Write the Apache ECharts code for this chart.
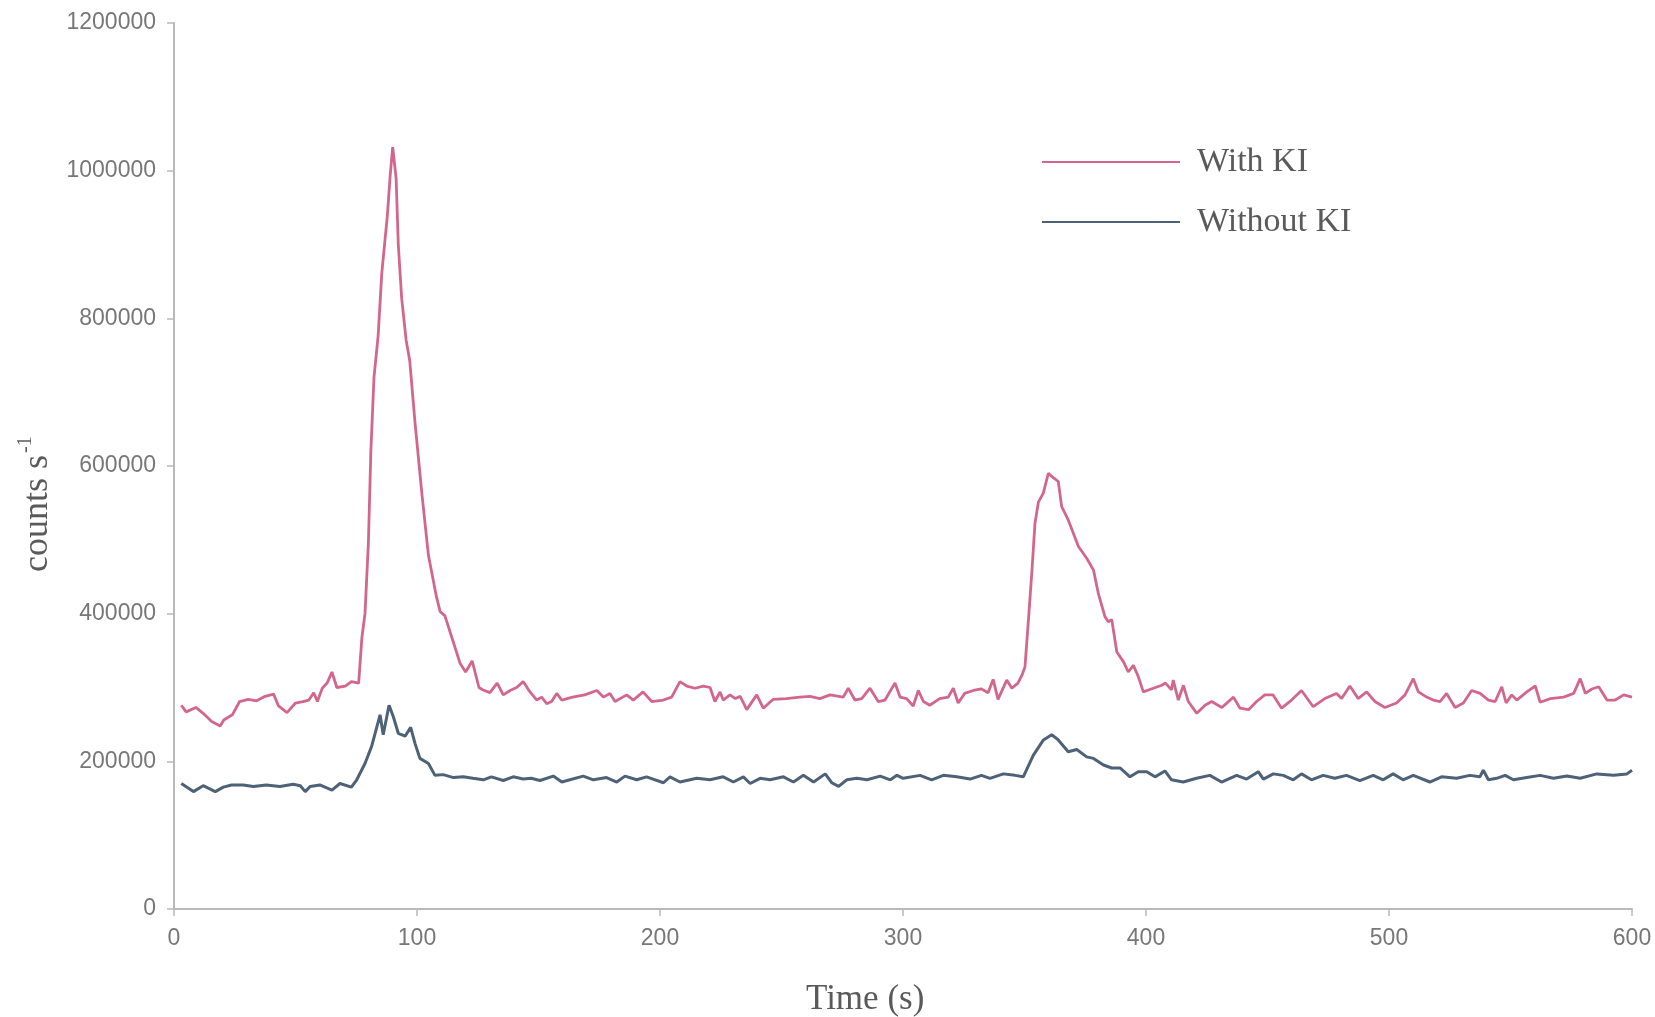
<!DOCTYPE html>
<html>
<head>
<meta charset="utf-8">
<script src="https://cdn.jsdelivr.net/npm/echarts@6/dist/echarts.min.js"></script>
<style>
html,body{margin:0;padding:0;background:#fff;}
#chart{width:1655px;height:1017px;}
</style>
</head>
<body>
<div id="chart"></div>
<script>
// ---- data ----
const seriesNames = ['With KI', 'Without KI'];
const xTickValues = [0, 100, 200, 300, 400, 500, 600];
const yTickValues = [0, 200000, 400000, 600000, 800000, 1000000, 1200000];

const withTime = [3,5,9,12,15.5,19,20.5,24,27,30.5,34,37.5,41,43,46.5,50,53,55.5,57.5,59,61,63,65,67,70.5,73,76,77.3,78.6,80,81,82.3,84,85.5,87.8,89,90,91.4,92.3,93.7,95.5,97,99.2,102,104.7,108,109.5,111.5,115,117.7,120,122.7,125.5,127,130,133,135.5,138.3,141,143.7,146.5,149.3,151.3,153.4,155.4,157.5,159.6,164,169,174,176.7,179.4,181.5,186.3,189,193,196.6,201.4,204.8,208.2,211,214.4,217.8,220.6,222.6,224.7,226,228.8,231,233,235.7,239.8,242.5,246.6,252,257.6,261.7,265.8,270,275.4,277.5,280.2,283,286.4,289.8,292.6,296.7,298.8,301.5,304.2,306.3,308.4,311,315.1,318.6,320.7,322.7,325.4,328.9,332.3,335,337.1,339.1,342.7,344.8,347.3,349,350.2,351.6,353,354.3,355.7,357.7,359.8,361.6,363.9,365.3,368,372.2,375.6,378.4,380.4,383.1,384.5,385.9,388,390.7,392.7,394.8,396.8,398.9,403,406.5,408,410.5,411.2,413.3,415.4,417.4,420.9,424.3,427,431.2,436,438.7,442.2,445.5,448.9,452.3,455.8,459.9,464,468.8,473.6,478.4,480.5,483.9,487.3,490.8,494.2,498.3,503.1,506.6,510,512.1,515.5,518.2,521,523.7,527.2,530.6,534,537.5,540.9,543.7,546.4,548.2,550.5,552.6,556.7,560.2,562.2,566.4,571.9,576,578.7,580.8,583.5,586.3,589.7,593.1,596.6,600];
const withCounts = [276000,267000,273000,265000,254000,248000,256000,263000,281000,284000,282000,288000,291000,275000,266000,279000,281000,283000,293000,281000,299000,306000,321000,300000,302000,308000,306000,367000,400000,496000,619000,720000,776000,861000,939000,995000,1032000,990000,900000,827000,771000,743000,658000,563000,479000,423000,403000,397000,361000,333000,321000,336000,300000,297000,293000,306000,290000,296000,300000,308000,294000,283000,287000,278000,281000,292000,283000,287000,290000,296000,287000,292000,281000,290000,283000,294000,281000,283000,287000,308000,302000,299000,302000,300000,281000,294000,283000,290000,285000,288000,270000,290000,272000,284000,285000,287000,288000,285000,290000,287000,299000,283000,285000,299000,281000,283000,306000,287000,285000,275000,296000,281000,276000,285000,287000,299000,279000,292000,296000,298000,293000,311000,284000,310000,299000,306000,317000,328000,391000,455000,522000,551000,563000,590000,585000,579000,545000,527000,491000,475000,459000,427000,396000,389000,392000,348000,335000,321000,330000,315000,294000,299000,303000,306000,297000,310000,283000,303000,281000,265000,276000,281000,273000,287000,272000,270000,281000,290000,290000,272000,283000,296000,274000,285000,292000,285000,302000,285000,294000,281000,273000,279000,290000,312000,294000,287000,283000,281000,292000,273000,279000,296000,292000,283000,281000,301000,279000,290000,283000,294000,302000,280000,285000,287000,292000,312000,292000,298000,301000,283000,283000,290000,287000];

const withoutTime = [3,8,12,17,20.3,23.7,28.5,32.6,38,43.6,49,52,54,56,60,65,68.3,73,75.2,78.6,81.3,84.8,86.1,88.5,90.3,92.3,95.1,97.4,99.2,101.2,104.7,107.4,110.8,115,119,123,127.3,130.6,135.5,139.6,143.7,147,150.6,156.1,159.6,168.4,172.6,178,182.2,185.6,190.4,194.5,201.4,204.1,208.2,215.1,220.6,226,230.2,234.3,237.1,241.2,245.3,250.8,254.9,259,263.2,268,270.7,273.5,276.9,281,285.2,290.6,294.8,297.5,300.1,307,311.8,316.6,322.1,327.6,332.3,335.8,341.3,346.1,349.5,353.6,357.8,361.2,363.9,368,371.5,375.6,378.4,382.5,385.9,389.3,393.4,396.8,400.3,403.7,407.8,410.5,415.3,420.8,426.3,431.1,437.3,441.4,446.2,448.3,452.4,456.5,460.6,464,468.1,472.9,477.7,482.5,488,493.5,497.6,501.7,505.8,510,516.8,521.6,527.8,533.3,537.4,538.8,540.9,544.3,547.8,551.2,556.7,562.2,567.7,573.2,578.7,585.5,592.4,597.9,600];
const withoutCounts = [170000,159000,167000,159000,165000,168000,168000,166000,168000,166000,169000,167000,159000,166000,168000,161000,170000,165000,175000,197000,220000,263000,236000,276000,260000,238000,234000,246000,224000,204000,197000,181000,182000,178000,179000,177000,175000,179000,174000,179000,176000,177000,174000,180000,172000,180000,175000,178000,172000,180000,175000,179000,171000,179000,172000,177000,175000,179000,172000,179000,170000,177000,175000,179000,172000,181000,172000,183000,171000,166000,175000,177000,175000,180000,175000,181000,177000,181000,175000,181000,179000,176000,181000,177000,183000,181000,179000,208000,229000,236000,229000,213000,216000,206000,204000,195000,191000,191000,179000,186000,186000,179000,187000,175000,172000,177000,181000,172000,181000,176000,186000,176000,183000,181000,175000,183000,175000,181000,177000,181000,174000,181000,175000,183000,175000,181000,172000,179000,177000,181000,179000,188000,175000,177000,181000,175000,178000,181000,177000,180000,177000,183000,181000,183000,188000];

const colors = ['#d3678a', '#4d6177'];

// ---- chart ----
const chart = echarts.init(document.getElementById('chart'), null, {renderer: 'canvas'});
const axisColor = '#b9b9b9';
const labelColor = '#777777';
const titleFont = '"Liberation Serif", "Times New Roman", serif';
const labelFont = '"Liberation Sans", Arial, sans-serif';

const option = {
  backgroundColor: '#ffffff',
  animation: false,
  grid: {left: 174, right: 23, top: 23, bottom: 108, containLabel: false},
  legend: {
    orient: 'vertical',
    left: 1037,
    top: 138,
    icon: 'rect',
    itemWidth: 138,
    itemHeight: 2,
    itemGap: 22,
    data: seriesNames,
    textStyle: {
      fontFamily: titleFont,
      fontSize: 34,
      color: '#5a5a5a',
      lineHeight: 38,
      padding: [0, 0, 0, 12]
    }
  },
  xAxis: {
    type: 'value',
    min: xTickValues[0],
    max: xTickValues[xTickValues.length - 1],
    interval: xTickValues[1] - xTickValues[0],
    splitLine: {show: false},
    axisLine: {lineStyle: {color: axisColor, width: 2}},
    axisTick: {length: 7, lineStyle: {color: axisColor, width: 1.5}},
    axisLabel: {
      color: labelColor,
      fontSize: 23,
      fontFamily: labelFont,
      margin: 18,
      formatter: v => String(v)
    }
  },
  yAxis: {
    type: 'value',
    min: yTickValues[0],
    max: yTickValues[yTickValues.length - 1],
    interval: yTickValues[1] - yTickValues[0],
    splitLine: {show: false},
    axisLine: {show: true, lineStyle: {color: axisColor, width: 2}},
    axisTick: {show: true, length: 7, lineStyle: {color: axisColor, width: 1.5}},
    axisLabel: {
      color: labelColor,
      fontSize: 23,
      fontFamily: labelFont,
      margin: 18,
      formatter: v => String(v)
    }
  },
  graphic: [
    {
      type: 'text',
      left: 806,
      top: 982,
      style: {
        text: 'Time (s)',
        font: '35px ' + titleFont,
        fill: '#5a5a5a'
      }
    },
    {
      type: 'text',
      x: 16,
      y: 572,
      rotation: Math.PI / 2,
      style: {
        text: '{a|counts s}{b|-1}',
        fill: '#5a5a5a',
        rich: {
          a: {fontFamily: titleFont, fontSize: 36, fill: '#5a5a5a', lineHeight: 40, verticalAlign: 'bottom'},
          b: {fontFamily: titleFont, fontSize: 20, fill: '#5a5a5a', lineHeight: 40, verticalAlign: 'top', padding: [0, 0, 0, 2]}
        }
      }
    }
  ],
  series: [
    {
      name: seriesNames[0],
      type: 'line',
      showSymbol: false,
      color: colors[0],
      lineStyle: {width: 2.8, color: colors[0]},
      data: withTime.map((t, i) => [t, withCounts[i]])
    },
    {
      name: seriesNames[1],
      type: 'line',
      showSymbol: false,
      color: colors[1],
      lineStyle: {width: 3, color: colors[1]},
      data: withoutTime.map((t, i) => [t, withoutCounts[i]])
    }
  ]
};
chart.setOption(option);
</script>
</body>
</html>
